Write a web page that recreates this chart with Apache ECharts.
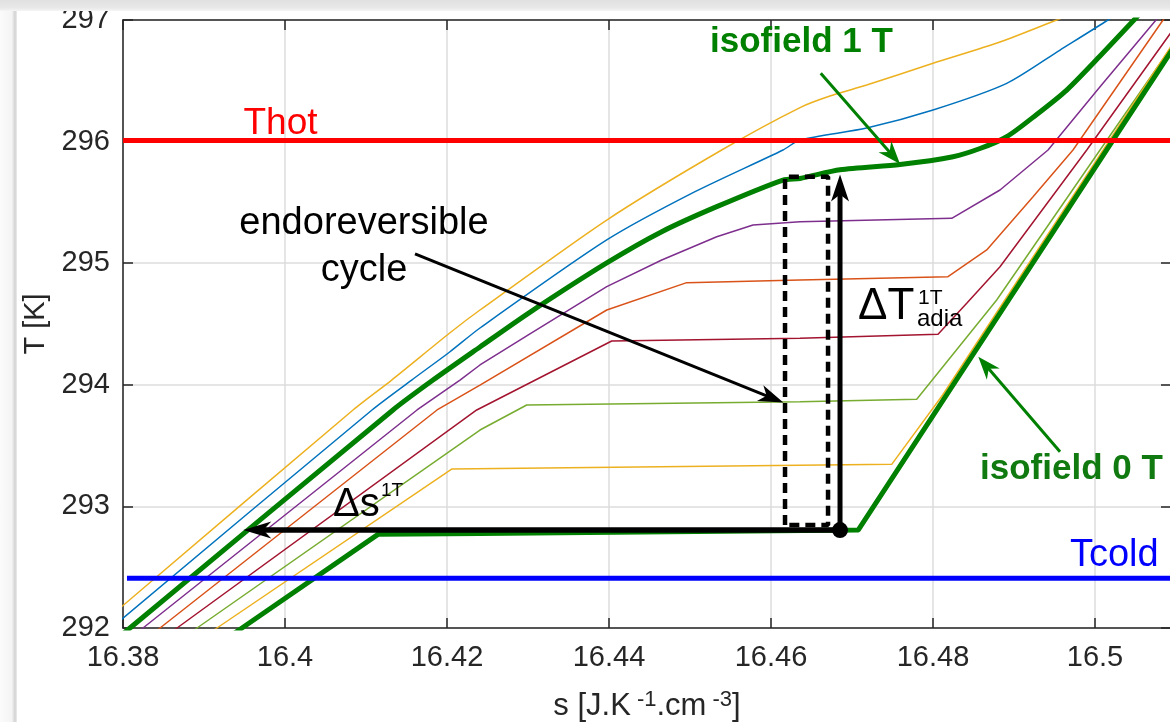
<!DOCTYPE html>
<html>
<head>
<meta charset="utf-8">
<script src="https://cdn.jsdelivr.net/npm/echarts@6.0.0/dist/echarts.min.js"></script>
<style>
  html, body { margin:0; padding:0; width:1170px; height:722px; overflow:hidden; background:#ffffff; }
  #chart { position:absolute; left:0; top:0; width:1172px; height:722px; }
  #topband { position:absolute; left:0; top:0; width:1170px; height:11px; z-index:5;
     background: linear-gradient(to bottom, #e0e0e0 0%, #e8e8e8 70%, #f5f5f5 100%); }
  #leftband { position:absolute; left:0; top:0; width:17px; height:722px; z-index:4;
     background: linear-gradient(to right, #fbfbfb 0%, #f4f4f4 70%, #d2d2d2 88%, #ededed 100%); }
</style>
</head>
<body>
<div id="chart"></div>
<div id="topband"></div>
<div id="leftband"></div>
<script>
// ---------------- data (s in J.K^-1.cm^-3, T in K) ----------------
const sRange = [16.38, 16.50938];
const sStep = 0.02;
const tRange = [292, 297];
const tStep = 1;

// thin isofield curves, from highest field to lowest
const curveHighField = [[16.3784,292.094],[16.4084,293.793],[16.41317,294.039],[16.42037,294.428],[16.42407,294.615],[16.43972,295.355],[16.45391,295.931],[16.46358,296.280],[16.46728,296.375],[16.47181,296.465],[16.48,296.644],[16.48827,296.819],[16.49527,297.0],[16.49815,297.074]];
const curveBlue = [[16.3784,291.992],[16.41074,293.793],[16.41564,294.039],[16.42037,294.272],[16.42407,294.467],[16.43972,295.191],[16.45062,295.588],[16.46148,295.931],[16.46358,296.013],[16.47181,296.112],[16.48,296.260],[16.4891,296.479],[16.49568,296.753],[16.5016,297.0],[16.50432,297.123]];
const curvePurple = [[16.38148,291.949],[16.38247,292.0],[16.4163,293.793],[16.4216,294.039],[16.42407,294.163],[16.43004,294.41],[16.43972,294.807],[16.44651,295.026],[16.4533,295.218],[16.45778,295.314],[16.46358,295.341],[16.48231,295.369],[16.48827,295.602],[16.4942,295.931],[16.50062,296.451],[16.50753,297.0],[16.50926,297.138]];
const curveOrange = [[16.38358,291.951],[16.38457,292.0],[16.41877,293.793],[16.42407,293.998],[16.43972,294.615],[16.44959,294.84],[16.46358,294.862],[16.48185,294.889],[16.48663,295.109],[16.49235,295.547],[16.49728,295.931],[16.5084,297.0],[16.50988,297.14]];
const curveDarkRed = [[16.38568,291.952],[16.38667,292.0],[16.42367,293.793],[16.44033,294.36],[16.46358,294.382],[16.48062,294.415],[16.48416,294.67],[16.48827,294.971],[16.49898,295.931],[16.51049,297.0]];
const curveLightGreen = [[16.38815,291.954],[16.38914,292.0],[16.42407,293.628],[16.42984,293.834],[16.46358,293.861],[16.47799,293.881],[16.48786,294.697],[16.50062,295.931],[16.51173,297.0]];
const curveLowField = [[16.39062,291.956],[16.3916,292.0],[16.42062,293.308],[16.4749,293.346],[16.48119,293.916],[16.50101,295.931],[16.51151,297.0]];

// thick isofields
const isofield1T = [[16.37988,291.946],[16.38086,292.0],[16.41333,293.793],[16.41827,294.039],[16.42407,294.311],[16.43004,294.588],[16.43972,295.002],[16.44651,295.259],[16.4533,295.465],[16.46148,295.684],[16.46358,295.697],[16.46852,295.768],[16.47593,295.812],[16.48247,295.876],[16.4858,295.943],[16.4891,296.040],[16.49272,296.219],[16.49651,296.424],[16.50062,296.704],[16.50481,297.0],[16.50679,297.14]];
const isofield0T = [[16.3937,291.955],[16.39469,292.0],[16.41148,292.770],[16.42407,292.778],[16.47078,292.806],[16.50144,295.931],[16.51194,297.0]];

// reservoir temperatures
const Thot = 296.01;
const Tcold = 292.41;
const TcoldStartS = 16.38049;

// endoreversible cycle (dashed rectangle)
const cycleS = [16.46173, 16.46704];
const cycleT = [292.847, 295.71];
const cycleStart = [16.46852, 292.805];

// arrows: [from, to]
const arrowDeltaS = [[16.46852, 292.805], [16.39485, 292.805]];
const arrowDeltaT = [[16.46852, 292.805], [16.46852, 295.729]];
const arrowCycle = [[16.41605, 295.076], [16.46152, 293.854]];
const arrowIso1T = [[16.46614, 296.562], [16.47593, 295.816]];
const arrowIso0T = [[16.49568, 293.450], [16.48559, 294.231]];

// annotation texts and anchors
const annoText = ['Thot', 'endoreversible\ncycle', 'isofield 1 T', 'isofield 0 T', 'Tcold', 'Δs', '1T', 'ΔT', '1T', 'adia'];
const annoAt = [[16.39944,296.149],[16.40975,295.133],[16.45247,296.819],[16.4858,293.308],[16.49691,292.596],[16.40593,293.012],[16.41185,293.127],[16.47074,294.645],[16.47815,294.714],[16.47802,294.539]];

// ---------------- styles ----------------
const FF = '"Liberation Sans", Arial, Helvetica, sans-serif';
const INK = '#262626';
const GRID = '#dddddd';
const GREEN = '#008000';

const thinCurves = [
  {name:'high', data:curveHighField, color:'#EDB120', smooth:0.25},
  {name:'blue', data:curveBlue, color:'#0072BD', smooth:0.25},
  {name:'purple', data:curvePurple, color:'#7E2F8E', smooth:false},
  {name:'orange', data:curveOrange, color:'#D95319', smooth:false},
  {name:'darkred', data:curveDarkRed, color:'#A2142F', smooth:false},
  {name:'lightgreen', data:curveLightGreen, color:'#77AC30', smooth:false},
  {name:'low', data:curveLowField, color:'#EDB120', smooth:false}
];

const annoStyle = [
  {font:'37px ' + FF, color:'#ff0000', align:'center'},
  {font:'38px ' + FF, color:'#000000', align:'center', lh:47},
  {font:'bold 35px ' + FF, color:GREEN, align:'left'},
  {font:'bold 35px ' + FF, color:'#107a10', align:'left'},
  {font:'38px ' + FF, color:'#0000ff', align:'left'},
  {font:'40px ' + FF, color:'#000000', align:'left'},
  {font:'19px ' + FF, color:'#000000', align:'left'},
  {font:'44px ' + FF, color:'#000000', align:'left'},
  {font:'21px ' + FF, color:'#000000', align:'left'},
  {font:'24px ' + FF, color:'#000000', align:'left'}
];

const arrowDefs = [
  {pts:arrowDeltaS, color:'#000000', width:5.5, head:[28,17,20]},
  {pts:arrowDeltaT, color:'#000000', width:5, head:[27,18,20]},
  {pts:arrowCycle, color:'#000000', width:3, head:[25,17,18]},
  {pts:arrowIso1T, color:GREEN, width:3, head:[23,17,16]},
  {pts:arrowIso0T, color:GREEN, width:3, head:[23,17,16]}
];

// ---------------- series ----------------
const series = [];
thinCurves.forEach(c => series.push({
  type:'line', name:c.name, data:c.data, symbol:'none', showSymbol:false, silent:true, z:2,
  smooth:c.smooth,
  lineStyle:{color:c.color, width:1.5}
}));
[isofield1T, isofield0T].forEach((d, i) => series.push({
  type:'line', name: i === 0 ? 'isofield 1 T' : 'isofield 0 T', data:d, symbol:'none', showSymbol:false, silent:true, z:3,
  smooth: i === 0 ? 0.25 : false,
  lineStyle:{color:GREEN, width:5, join:'round'}
}));
series.push({
  type:'line', name:'Thot', data:[[sRange[0], Thot],[sRange[1] + 0.01, Thot]], symbol:'none', silent:true, z:4,
  lineStyle:{color:'#ff0000', width:5}
});
series.push({
  type:'line', name:'Tcold', data:[[TcoldStartS, Tcold],[sRange[1] + 0.01, Tcold]], symbol:'none', silent:true, z:4,
  lineStyle:{color:'#0000ff', width:5}
});
series.push({
  type:'line', name:'cycle', silent:true, z:5, symbol:'none',
  data:[[cycleS[0],cycleT[0]],[cycleS[0],cycleT[1]],[cycleS[1],cycleT[1]],[cycleS[1],cycleT[0]],[cycleS[0],cycleT[0]]],
  lineStyle:{color:'#000000', width:4.5, type:[10,6]}
});
series.push({
  type:'custom', name:'arrows', silent:true, z:6,
  data: arrowDefs.map(a => [a.pts[0][0], a.pts[0][1], a.pts[1][0], a.pts[1][1]]),
  encode:{x:[0,2], y:[1,3]},
  renderItem: (params, api) => {
    const d = arrowDefs[params.dataIndex];
    const a = api.coord([api.value(0), api.value(1)]);
    const b = api.coord([api.value(2), api.value(3)]);
    const dx = b[0]-a[0], dy = b[1]-a[1], L = Math.hypot(dx, dy);
    const ux = dx/L, uy = dy/L, nx = -uy, ny = ux;
    const hl = d.head[0], hw = d.head[1]/2, hn = d.head[2];
    const bk = [b[0]-ux*hl, b[1]-uy*hl];
    const pts = [[b[0],b[1]],[bk[0]+nx*hw, bk[1]+ny*hw],[b[0]-ux*hn, b[1]-uy*hn],[bk[0]-nx*hw, bk[1]-ny*hw]];
    const e = [b[0]-ux*(hn-2), b[1]-uy*(hn-2)];
    return {type:'group', children:[
      {type:'line', shape:{x1:a[0], y1:a[1], x2:e[0], y2:e[1]}, style:{stroke:d.color, lineWidth:d.width}},
      {type:'polygon', shape:{points:pts}, style:{fill:d.color}}
    ]};
  }
});
series.push({
  type:'scatter', name:'start', data:[cycleStart], symbol:'circle', symbolSize:16, silent:true, z:7,
  itemStyle:{color:'#000000', opacity:1}
});
series.push({
  type:'custom', name:'texts', silent:true, z:8,
  data: annoAt,
  renderItem: (params, api) => {
    const st = annoStyle[params.dataIndex];
    const p = api.coord([api.value(0), api.value(1)]);
    return {type:'text', x:p[0], y:p[1], style:{
      text: annoText[params.dataIndex], fill: st.color, font: st.font,
      align: st.align, verticalAlign:'middle', textAlign: st.align, textVerticalAlign:'middle',
      lineHeight: st.lh || undefined
    }};
  }
});

// ---------------- axes ----------------
const axisLine = {show:true, onZero:false, lineStyle:{color:INK, width:1.5}};
const axisTick = {show:true, inside:true, length:10, lineStyle:{color:INK, width:1.5}};

const option = {
  animation:false,
  backgroundColor:'transparent',
  grid:{left:123, top:20, right:1, bottom:94, containLabel:false, outerBoundsMode:'none'},
  xAxis:[{
    type:'value', position:'bottom', min:sRange[0], max:sRange[1], interval:sStep,
    axisLine, axisTick,
    axisLabel:{show:true, color:INK, fontSize:29, fontFamily:FF, margin:15, showMaxLabel:false, showMinLabel:true},
    splitLine:{show:true, lineStyle:{color:GRID, width:1.5}},
    name:'s [J.K{sup| -1}.cm{sup| -3}]', nameLocation:'middle', nameGap:61,
    nameTextStyle:{color:INK, fontSize:31, fontFamily:FF, lineHeight:34,
      rich:{sup:{color:INK, fontSize:22, fontFamily:FF, verticalAlign:'top', lineHeight:14}}}
  },{
    type:'value', position:'top', min:sRange[0], max:sRange[1], interval:sStep,
    axisLine, axisTick, axisLabel:{show:false}, splitLine:{show:false}
  }],
  yAxis:[{
    type:'value', position:'left', min:tRange[0], max:tRange[1], interval:tStep,
    axisLine, axisTick,
    axisLabel:{show:true, color:INK, fontSize:29, fontFamily:FF, margin:13},
    splitLine:{show:true, lineStyle:{color:GRID, width:1.5}},
    name:'T [K]', nameLocation:'middle', nameGap:72,
    nameTextStyle:{color:INK, fontSize:29, fontFamily:FF}
  },{
    type:'value', position:'right', min:tRange[0], max:tRange[1], interval:tStep,
    axisLine, axisTick, axisLabel:{show:false}, splitLine:{show:false}
  }],
  series
};

const chart = echarts.init(document.getElementById('chart'), null, {renderer:'canvas'});
chart.setOption(option);
</script>
</body>
</html>
